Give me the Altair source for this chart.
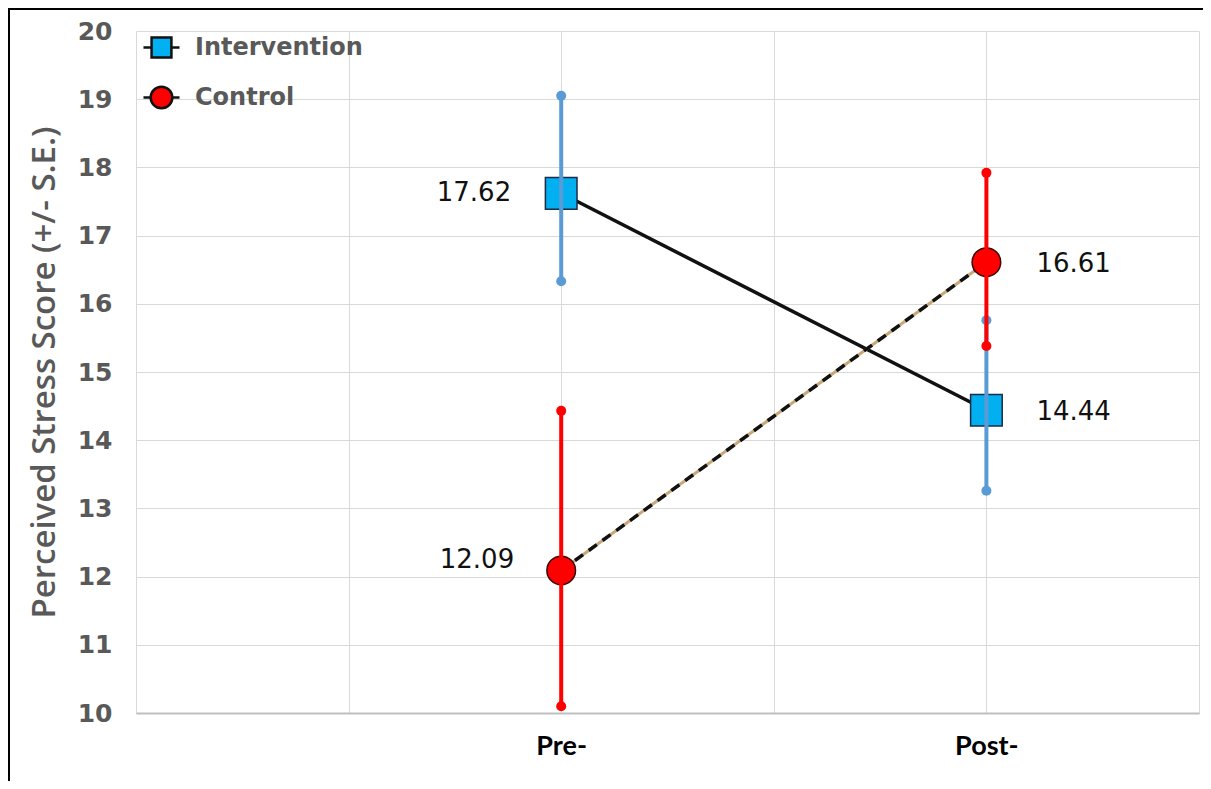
import altair as alt
import pandas as pd

times = ["Pre-", "Post-"]
groups = ["Intervention", "Control"]
intervention_mean = [17.62, 14.44]
intervention_low = [16.33, 13.26]
intervention_high = [19.05, 15.76]
control_mean = [12.09, 16.61]
control_low = [10.10, 15.38]
control_high = [14.43, 17.92]

rows = []
for g, m, lo, hi in [("Intervention", intervention_mean, intervention_low, intervention_high),
                     ("Control", control_mean, control_low, control_high)]:
    for t, mv, l, h in zip(times, m, lo, hi):
        rows.append(dict(group=g, time=t, mean=mv, low=l, high=h, label=f"{mv:.2f}"))
df = pd.DataFrame(rows)

BLUE_FILL = "#00B0F0"
BLUE_BAR = "#5B9BD5"
RED = "#FF0000"
YTITLE = "Perceived Stress Score (+/- S.E.)"

x_domain = ["g0", "g1", "Pre-", "g3", "Post-", "g5"]
x_scale = alt.Scale(type="point", domain=x_domain, padding=0)
x_axis = alt.Axis(grid=True, labelExpr="indexof(datum.label, 'g') == 0 ? '' : datum.label")
y_scale = alt.Scale(domain=[10, 20], nice=False, zero=False)
y_axis = alt.Axis(values=list(range(10, 21)))

def X():
    return alt.X("time:N", scale=x_scale, axis=x_axis, title=None, sort=x_domain)

def Y(field):
    return alt.Y(f"{field}:Q", scale=y_scale, axis=y_axis, title=YTITLE)

base = alt.Chart(df)
interv = base.transform_filter(alt.datum.group == "Intervention")
ctrl = base.transform_filter(alt.datum.group == "Control")

line_i = interv.mark_line(color="#111111", strokeWidth=3.5).encode(x=X(), y=Y("mean"))
line_c_under = ctrl.mark_line(color="#C8A878", strokeWidth=3).encode(x=X(), y=Y("mean"))
line_c = ctrl.mark_line(color="#111111", strokeWidth=3.5, strokeDash=[10, 7]).encode(x=X(), y=Y("mean"))

pts_i = interv.mark_point(shape="square", filled=True, size=1000, fill=BLUE_FILL,
                          stroke="#1F2A44", strokeWidth=1.5, opacity=1).encode(x=X(), y=Y("mean"))
pts_c = ctrl.mark_point(shape="circle", filled=True, size=820, fill=RED,
                        stroke="#3A0A0A", strokeWidth=1.5, opacity=1).encode(x=X(), y=Y("mean"))

def errbars(src, color):
    bar = src.mark_rule(color=color, strokeWidth=4).encode(
        x=X(), y=Y("low"), y2="high:Q")
    ends = src.transform_fold(["low", "high"], as_=["end", "val"]).mark_circle(
        color=color, size=100, opacity=1).encode(x=X(), y=Y("val"))
    return bar + ends

err_i = errbars(interv, BLUE_BAR)
err_c = errbars(ctrl, RED)

txt_font = dict(font="DejaVu Sans", fontSize=26, color="#111111", baseline="middle")
lab_i_pre = interv.transform_filter(alt.datum.time == "Pre-").mark_text(
    align="right", dx=-50, dy=0, **txt_font).encode(x=X(), y=Y("mean"), text="label:N")
lab_c_pre = ctrl.transform_filter(alt.datum.time == "Pre-").mark_text(
    align="right", dx=-47, dy=-10, **txt_font).encode(x=X(), y=Y("mean"), text="label:N")
lab_post = base.transform_filter(alt.datum.time == "Post-").mark_text(
    align="left", dx=50, dy=2, **txt_font).encode(x=X(), y=Y("mean"), text="label:N")

sq_path = "M-1,0L-0.55,0M0.55,0L1,0M-0.55,-0.55L0.55,-0.55L0.55,0.55L-0.55,0.55Z"
ci_path = "M-1,0L-0.6,0M0.6,0L1,0M0.6,0A0.6,0.6,0,1,1,-0.6,0A0.6,0.6,0,1,1,0.6,0Z"
legend = alt.Legend(title=None, orient="none", legendX=6, legendY=-3, padding=0, offset=0,
                    symbolSize=1300, symbolStrokeWidth=2.5,
                    symbolOpacity=1, rowPadding=15, labelOffset=14,
                    labelFont="DejaVu Sans", labelFontSize=24, labelFontWeight="bold",
                    labelColor="#595959", labelLimit=400)
leg = base.mark_point(size=0, filled=True, strokeWidth=2.5, opacity=1).encode(
    x=X(), y=Y("mean"),
    shape=alt.Shape("group:N", scale=alt.Scale(domain=groups, range=[sq_path, ci_path]), legend=legend),
    fill=alt.Fill("group:N", scale=alt.Scale(domain=groups, range=[BLUE_FILL, RED]), legend=legend),
    stroke=alt.Stroke("group:N", scale=alt.Scale(domain=groups, range=["#111111", "#111111"]), legend=legend),
)

frame = base.mark_rule(color="#000000", strokeWidth=2).encode(
    x=alt.value(-127), y=alt.value(-22), y2=alt.value(900))
frame_top = base.mark_rule(color="#000000", strokeWidth=2).encode(
    x=alt.value(-128), x2=alt.value(1075), y=alt.value(-22))

chart = alt.layer(
    line_i, line_c_under, line_c, pts_i, pts_c, err_i, err_c,
    lab_i_pre, lab_c_pre, lab_post, leg, frame, frame_top
).properties(
    width=1063, height=682,
    padding={"left": 128, "top": 23, "right": 4, "bottom": 68},
    autosize=alt.AutoSizeParams(type="none"),
).configure_view(stroke=None).configure_axisY(
    domain=False, ticks=False, labelFont="DejaVu Sans", labelFontWeight="bold",
    labelFontSize=25, labelColor="#595959", labelPadding=24, gridColor="#D9D9D9",
    titleFont="Open Sans", titleFontSize=33, titleFontWeight=600, titleColor="#595959",
    titlePadding=16,
).configure_axisX(
    domain=True, domainColor="#BFBFBF", domainWidth=2, ticks=False, labelFont="Lato",
    labelFontWeight="bold", labelFontSize=27, labelColor="#000000", labelPadding=20,
    gridColor="#D9D9D9", labelAngle=0,
)

chart.save("out.html", embed_options={"renderer": "svg", "actions": False})
